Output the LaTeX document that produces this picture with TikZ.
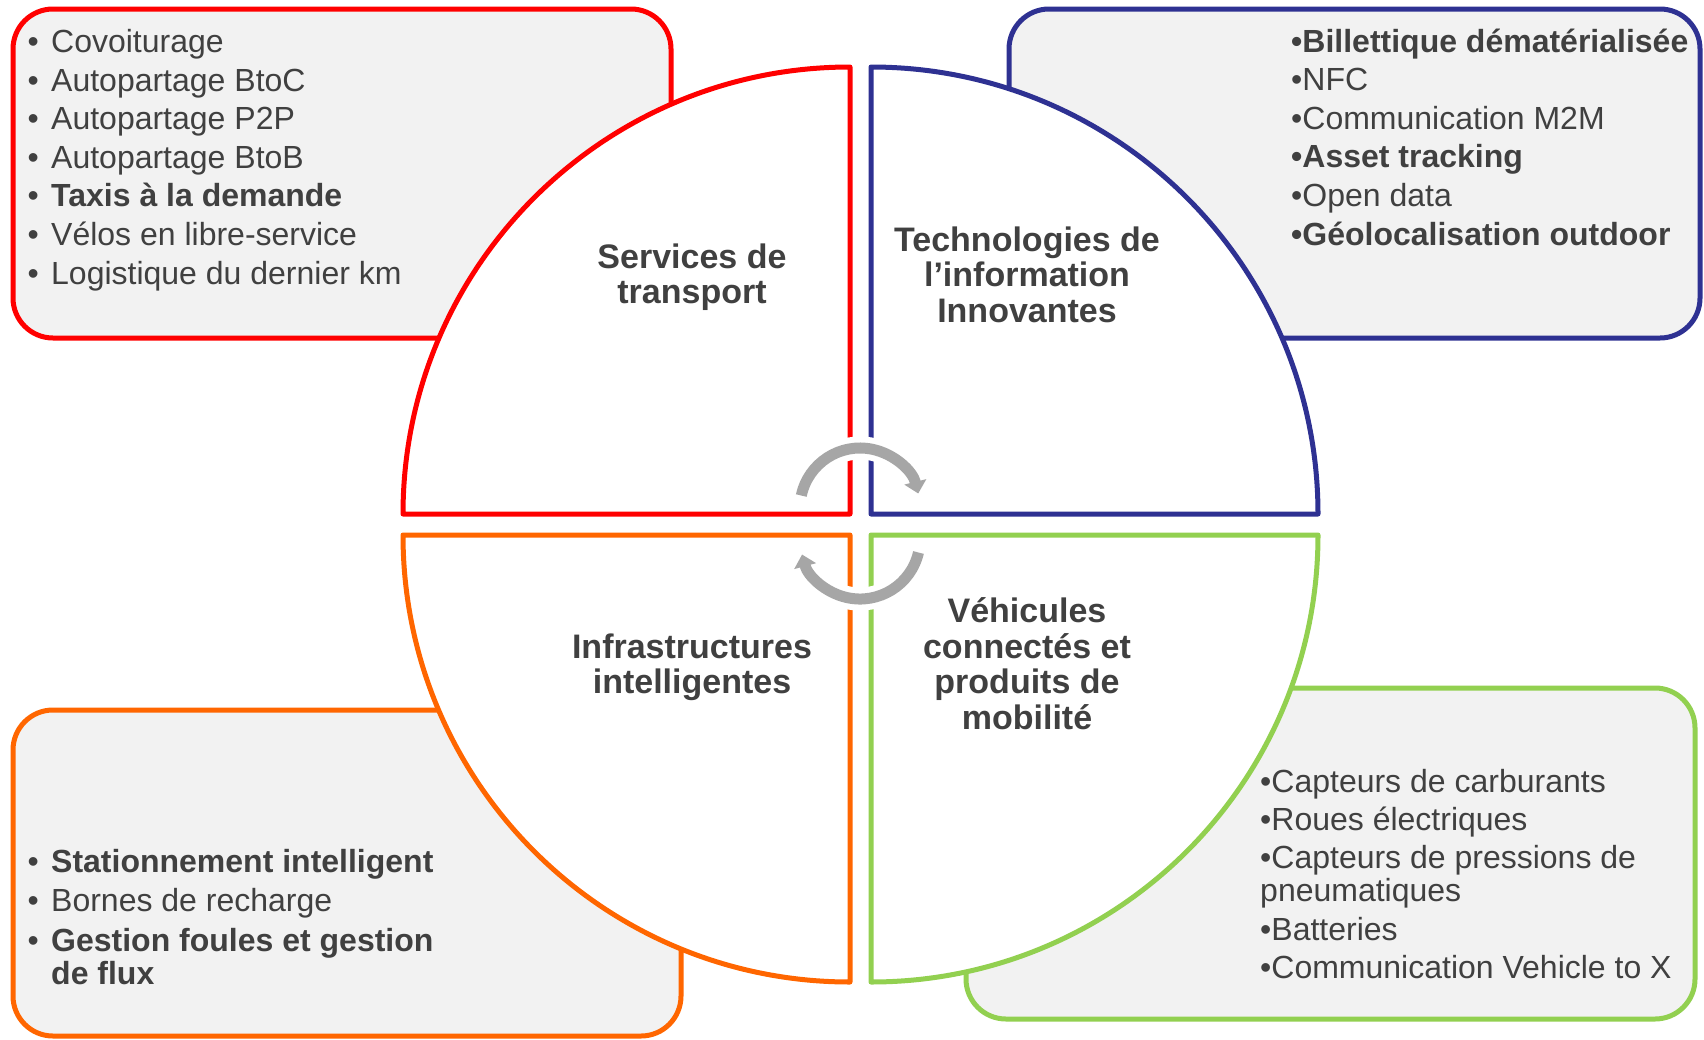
\documentclass[tikz,border=0pt]{standalone}
\usepackage{fontspec}
\setmainfont{Liberation Sans}
\usetikzlibrary{arrows.meta}
\definecolor{qred}{HTML}{FF0000}
\definecolor{qblue}{HTML}{2E3192}
\definecolor{qorange}{HTML}{FF6600}
\definecolor{qgreen}{HTML}{92D050}
\definecolor{boxfill}{HTML}{F2F2F2}
\definecolor{txt}{HTML}{404040}
\definecolor{arrowgray}{HTML}{A6A6A6}
\newcommand\bulitem{\llap{•\hspace{12.4pt}}}
\begin{document}
\begin{tikzpicture}[x=1pt,y=-1pt,
  listbox/.style={line width=5pt, rounded corners=40pt, fill=boxfill},
  quadrant/.style={line width=5pt, fill=white, line join=round},
  listtext/.style={anchor=base west, align=left, inner sep=0pt, text=txt, font=\fontsize{32}{33}\selectfont},
  title/.style={anchor=base, align=center, inner sep=0pt, text=txt, font=\bfseries\fontsize{34}{35.5}\selectfont},
  cyclearrow/.style={line width=11pt, draw=arrowgray, -{Triangle[width=22pt,length=12pt]}},
  halo/.style={line width=23pt, draw=white},
]
\useasboundingbox (0,0) rectangle (1704,1039);

% boxes
\draw[listbox, draw=qred] (13,9) rectangle (671,338);
\draw[listbox, draw=qblue] (1009,9) rectangle (1700,338);
\draw[listbox, draw=qorange] (13,710) rectangle (681,1036);
\draw[listbox, draw=qgreen] (966,688) rectangle (1695,1019);

% quadrants
\draw[quadrant, draw=qred] (850,514) -- (403,514) arc[start angle=180, end angle=270, radius=447] -- cycle;
\draw[quadrant, draw=qblue] (871,514) -- (871,67) arc[start angle=-90, end angle=0, radius=447] -- cycle;
\draw[quadrant, draw=qorange] (850,535) -- (403,535) arc[start angle=180, end angle=90, radius=447] -- cycle;
\draw[quadrant, draw=qgreen] (871,535) -- (1318,535) arc[start angle=0, end angle=90, radius=447] -- cycle;

% titles (anchored at the baseline of their last line)
\node[title] (svc) at (692,303.5) {Services de\\transport};
\node[title] (tech) at (1027,322) {Technologies de\\l’information\\Innovantes};
\node[title] (infra) at (692,693.5) {Infrastructures\\intelligentes};
\node[title] (veh) at (1027,729) {Véhicules\\connectés et\\produits de\\mobilité};

% lists (anchored at the baseline of their last line)
\node[listtext] (redlist) at (51,284) {\bulitem Covoiturage\\[5.6pt]
  \bulitem Autopartage BtoC\\[5.6pt]
  \bulitem Autopartage P2P\\[5.6pt]
  \bulitem Autopartage BtoB\\[5.6pt]
  \bulitem\textbf{Taxis à la demande}\\[5.6pt]
  \bulitem Vélos en libre-service\\[5.6pt]
  \bulitem Logistique du dernier km};
\node[listtext] (bluelist) at (1291,245) {\textbf{•Billettique dématérialisée}\\[5.6pt]
  •NFC\\[5.6pt]
  •Communication M2M\\[5.6pt]
  \textbf{•Asset tracking}\\[5.6pt]
  •Open data\\[5.6pt]
  \textbf{•Géolocalisation outdoor}};
\node[listtext] (orangelist) at (51,984) {\bulitem\textbf{Stationnement intelligent}\\[6.5pt]
  \bulitem Bornes de recharge\\[6.5pt]
  \bulitem\textbf{Gestion foules et gestion}\\
  \textbf{de flux}};
\node[listtext] (greenlist) at (1260,978) {•Capteurs de carburants\\[5pt]
  •Roues électriques\\[5pt]
  •Capteurs de pressions de\\
  pneumatiques\\[6pt]
  •Batteries\\[5pt]
  •Communication Vehicle to X};

% cycle arrows
\coordinate (topc) at (860,508);
\coordinate (botc) at (860,539);
\draw[halo] (topc) ++(-168:60) arc[start angle=-168, end angle=-22, radius=60];
\draw[cyclearrow] (topc) ++(-168:60) arc[start angle=-168, end angle=-14, radius=60];
\draw[halo] (botc) ++(13:60) arc[start angle=13, end angle=158, radius=60];
\draw[cyclearrow] (botc) ++(13:60) arc[start angle=13, end angle=165, radius=60];
\end{tikzpicture}
\end{document}
